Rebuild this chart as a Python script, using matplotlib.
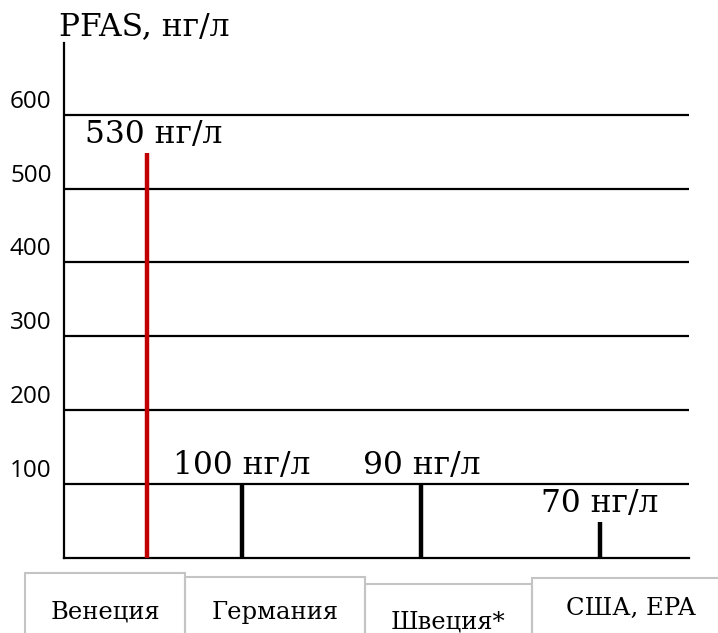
import matplotlib.pyplot as plt
from matplotlib.patches import Rectangle
from matplotlib.transforms import ScaledTranslation

# data
categories = ["Венеция", "Германия", "Швеция*", "США, EPA"]
heights = [548, 100, 100, 49]          # drawn line tops
value_labels = ["530 нг/л", "100 нг/л", "90 нг/л", "70 нг/л"]
line_colors = ["#C00000", "black", "black", "black"]
yticks = [100, 200, 300, 400, 500, 600]

W, H = 718, 633
fig = plt.figure(figsize=(W / 100, H / 100), dpi=100)

# axes box in pixels: x 64..689, y 43..558 (from top)
ax = fig.add_axes([64 / W, (H - 558) / H, (689 - 64) / W, (558 - 43) / H])
ax.set_xlim(0, 1)
ax.set_ylim(0, 697)

for s in ["top", "right"]:
    ax.spines[s].set_visible(False)
ax.spines["left"].set_linewidth(1.6)
ax.spines["bottom"].set_linewidth(1.6)

for v in yticks:
    ax.axhline(v, color="black", lw=1.6, zorder=1)

ax.set_xticks([])
ax.set_yticks(yticks)
ax.tick_params(axis="y", length=0, pad=9, labelsize=17.5)
offset = ScaledTranslation(0, 16 / 100, fig.dpi_scale_trans)
for lab in ax.get_yticklabels():
    lab.set_fontfamily("Open Sans")
    lab.set_transform(lab.get_transform() + offset)

# category positions along x (fraction of axis width)
xpos = [0.1325, 0.285, 0.572, 0.857]
ax.vlines(xpos, 0, heights, colors=line_colors, lw=3.2, zorder=3)

for x, h, txt in zip(xpos, heights, value_labels):
    dx = 7 if h > 500 else 0
    ax.annotate(txt, (x, h), xytext=(dx, 3), textcoords="offset pixels",
                ha="center", va="bottom", fontsize=22.5,
                family="DejaVu Serif", color="black")

fig.text(59 / W, 1 - 27 / H, "PFAS, нг/л", ha="left", va="center",
         fontsize=22.5, family="DejaVu Serif")

# tab-like category boxes under the chart
boxes = [(25, 185, 573), (185, 365, 577), (365, 532, 584), (532, 730, 578)]
text_y = [612, 613, 622, 608]
for (x0, x1, top), ty, name in zip(boxes, text_y, categories):
    r = Rectangle((x0 / W, 0 - 0.05), (x1 - x0) / W, (H - top) / H + 0.05,
                  transform=fig.transFigure, fill=False,
                  edgecolor="#C4C4C4", lw=1.5, clip_on=False)
    fig.add_artist(r)
    fig.text((x0 + x1) / 2 / W, 1 - ty / H, name, ha="center", va="center",
             fontsize=17.5, family="DejaVu Serif")

fig.savefig("out.png", dpi=100)
